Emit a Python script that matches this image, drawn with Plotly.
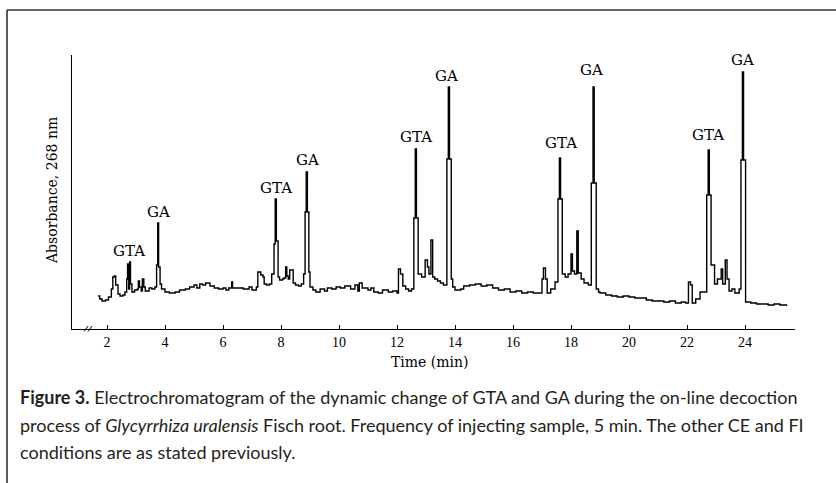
import plotly.graph_objects as go

# ---------------- data ----------------
time_min = [1.69, 1.75, 1.83, 1.95, 2.05, 2.15, 2.20, 2.25, 2.30, 2.38, 2.45, 2.55, 2.62, 2.68, 2.71, 2.75, 2.78, 2.81, 2.86,
            2.95, 3.05, 3.08, 3.12, 3.18, 3.22, 3.27, 3.32, 3.45, 3.55, 3.65, 3.71, 3.75, 3.78, 3.83, 3.88,
            4.0, 4.15, 4.35, 4.5, 4.7, 4.85, 5.0, 5.1, 5.2, 5.3, 5.4, 5.55, 5.7, 5.85, 6.0, 6.1, 6.2, 6.3, 6.33,
            6.5, 6.7, 6.9, 7.0, 7.15, 7.2, 7.3, 7.38, 7.42, 7.5, 7.6, 7.68, 7.76, 7.80, 7.84, 7.90, 7.95,
            8.05, 8.1, 8.16, 8.2, 8.25, 8.3, 8.38, 8.42, 8.5, 8.6, 8.7, 8.78, 8.83, 8.87, 8.91, 8.96, 9.0, 9.1,
            9.2, 9.35, 9.5, 9.6, 9.75, 9.9, 10.05, 10.2, 10.4, 10.55, 10.65, 10.7, 10.8, 11.0, 11.1, 11.2, 11.35,
            11.5, 11.7, 11.85, 12.0, 12.05, 12.12, 12.2, 12.3, 12.4, 12.5, 12.58, 12.63, 12.67, 12.73,
            12.85, 12.97, 13.05, 13.1, 13.17, 13.23, 13.3, 13.4, 13.5, 13.6, 13.72, 13.77, 13.81, 13.87, 13.92,
            14.0, 14.2, 14.3, 14.5, 14.7, 14.9, 15.1, 15.3, 15.5, 15.7, 15.9, 16.1, 16.3, 16.5, 16.7, 16.9,
            17.0, 17.05, 17.12, 17.18, 17.3, 17.45, 17.55, 17.60, 17.64, 17.70, 17.8, 17.9, 18.0, 18.05,
            18.12, 18.2, 18.25, 18.35, 18.45, 18.6, 18.70, 18.76, 18.80, 18.87, 18.95, 19.0, 19.2, 19.4, 19.6,
            19.8, 20.0, 20.2, 20.4, 20.6, 20.8, 21.0, 21.2, 21.4, 21.6, 21.8, 21.95, 22.05, 22.12, 22.18, 22.3,
            22.45, 22.6, 22.68, 22.73, 22.77, 22.83, 22.95, 23.05, 23.18, 23.23, 23.32, 23.38, 23.45,
            23.55, 23.65, 23.8, 23.86, 23.91, 23.95, 24.02, 24.2, 24.4, 24.6, 24.8, 25.0, 25.2, 25.43]
absorbance = [33, 30, 28, 29, 32, 40, 52, 53, 44, 35, 33, 34, 37, 50, 65, 40, 67, 45, 37,
              39, 40, 48, 42, 38, 50, 42, 38, 41, 40, 42, 64, 106, 62, 45, 40,
              37, 36, 37, 39, 40, 42, 44, 41, 45, 44, 46, 43, 41, 40, 41, 39, 41, 47, 41,
              41, 40, 42, 39, 42, 57, 54, 52, 45, 44, 45, 55, 85, 130, 88, 52, 49,
              50, 51, 62, 53, 50, 59, 59, 46, 44, 43, 45, 55, 117, 157, 117, 57, 42, 39,
              37, 40, 38, 41, 40, 42, 41, 43, 40, 44, 38, 46, 41, 39, 41, 37, 36,
              39, 37, 38, 36, 60, 55, 43, 40, 38, 40, 111, 180, 111, 55,
              52, 69, 62, 55, 89, 52, 50, 48, 46, 44, 170, 242, 170, 50, 42,
              39, 40, 43, 44, 45, 43, 44, 41, 39, 40, 37, 38, 36, 37, 36, 36,
              50, 61, 50, 36, 40, 47, 130, 171, 130, 55, 52, 55, 75, 58,
              55, 98, 56, 50, 46, 44, 146, 242, 146, 40, 37, 36, 34, 33, 32,
              33, 32, 31, 31, 29, 28, 28, 27, 28, 26, 27, 26, 47, 44, 26, 30,
              37, 37, 134, 179, 134, 64, 45, 50, 60, 45, 69, 50, 38,
              40, 36, 40, 169, 257, 169, 27, 26, 25, 25, 24, 25, 24, 23]

peak_labels = ["GTA", "GA", "GTA", "GA", "GTA", "GA", "GTA", "GA", "GTA", "GA"]
label_time = [2.76, 3.76, 7.83, 8.90, 12.66, 13.72, 17.64, 18.71, 22.74, 23.91]
label_level = [78, 117, 141, 169, 192, 253, 186, 259, 194, 269]

x_ticks = [2, 4, 6, 8, 10, 12, 14, 16, 18, 20, 22, 24]

# ---------------- layout helpers ----------------
W, H = 836, 483
L, R, T, B = 72, 795, 55, 329


def px(x):
    return (x - L) / (R - L)


def py(y):
    return (B - y) / (B - T)


serif_wide = "DejaVu Serif, serif"
serif = "Liberation Serif, Times New Roman, serif"
sans = "Lato, Open Sans, sans-serif"

fig = go.Figure()
fig.add_trace(go.Scatter(x=time_min, y=absorbance, mode="lines", line=dict(color="black", width=1.4, shape="hv"),
                         hoverinfo="skip", showlegend=False))

annotations = []
for lab, t, v in zip(peak_labels, label_time, label_level):
    annotations.append(dict(x=t, y=v, xref="x", yref="y", text=lab, showarrow=False,
                            font=dict(family=serif_wide, size=15, color="black"), xanchor="center", yanchor="middle"))

annotations.append(dict(x=px(52), y=py(191), xref="paper", yref="paper", text="Absorbance, 268 nm",
                        textangle=-90, showarrow=False, font=dict(family=serif_wide, size=14, color="black"),
                        xanchor="center", yanchor="middle"))
annotations.append(dict(x=px(430), y=py(362), xref="paper", yref="paper", text="Time (min)",
                        showarrow=False, font=dict(family=serif_wide, size=14, color="black"),
                        xanchor="center", yanchor="middle"))

caption = [
    "<b>Figure 3.</b> Electrochromatogram of the dynamic change of GTA and GA during the on-line decoction",
    "process of <i>Glycyrrhiza uralensis</i> Fisch root. Frequency of injecting sample, 5 min. The other CE and FI",
    "conditions are as stated previously.",
]
for i, line in enumerate(caption):
    annotations.append(dict(x=px(18), y=py(397 + 27.5 * i), xref="paper", yref="paper", text=line,
                            showarrow=False, font=dict(family=sans, size=18, color="#231f20"),
                            xanchor="left", yanchor="middle"))

shapes = [
    dict(type="line", xref="paper", yref="paper", x0=px(7), x1=px(840), y0=py(10), y1=py(10),
         line=dict(color="#333333", width=1.6)),
    dict(type="line", xref="paper", yref="paper", x0=px(7), x1=px(7), y0=py(10), y1=py(490),
         line=dict(color="#333333", width=1.6)),
    dict(type="line", xref="paper", yref="paper", x0=px(84), x1=px(88), y0=py(331.5), y1=py(326),
         line=dict(color="black", width=1)),
    dict(type="line", xref="paper", yref="paper", x0=px(88), x1=px(92), y0=py(331.5), y1=py(326),
         line=dict(color="black", width=1)),
]

fig.update_layout(
    width=W, height=H,
    margin=dict(l=L, r=W - R, t=T, b=H - B),
    paper_bgcolor="white", plot_bgcolor="white",
    showlegend=False,
    xaxis=dict(range=[2 - 35 / 29, 2 + 688 / 29], tickvals=x_ticks, ticks="inside", ticklen=4,
               tickcolor="black", tickwidth=1, showline=True, linecolor="black", linewidth=1.3,
               showgrid=False, zeroline=False,
               tickfont=dict(family=serif, size=14, color="black")),
    yaxis=dict(range=[0, B - T], showticklabels=False, ticks="", showline=True, linecolor="black",
               linewidth=1.3, showgrid=False, zeroline=False),
    annotations=annotations,
    shapes=shapes,
)

fig.write_html("out.html")
